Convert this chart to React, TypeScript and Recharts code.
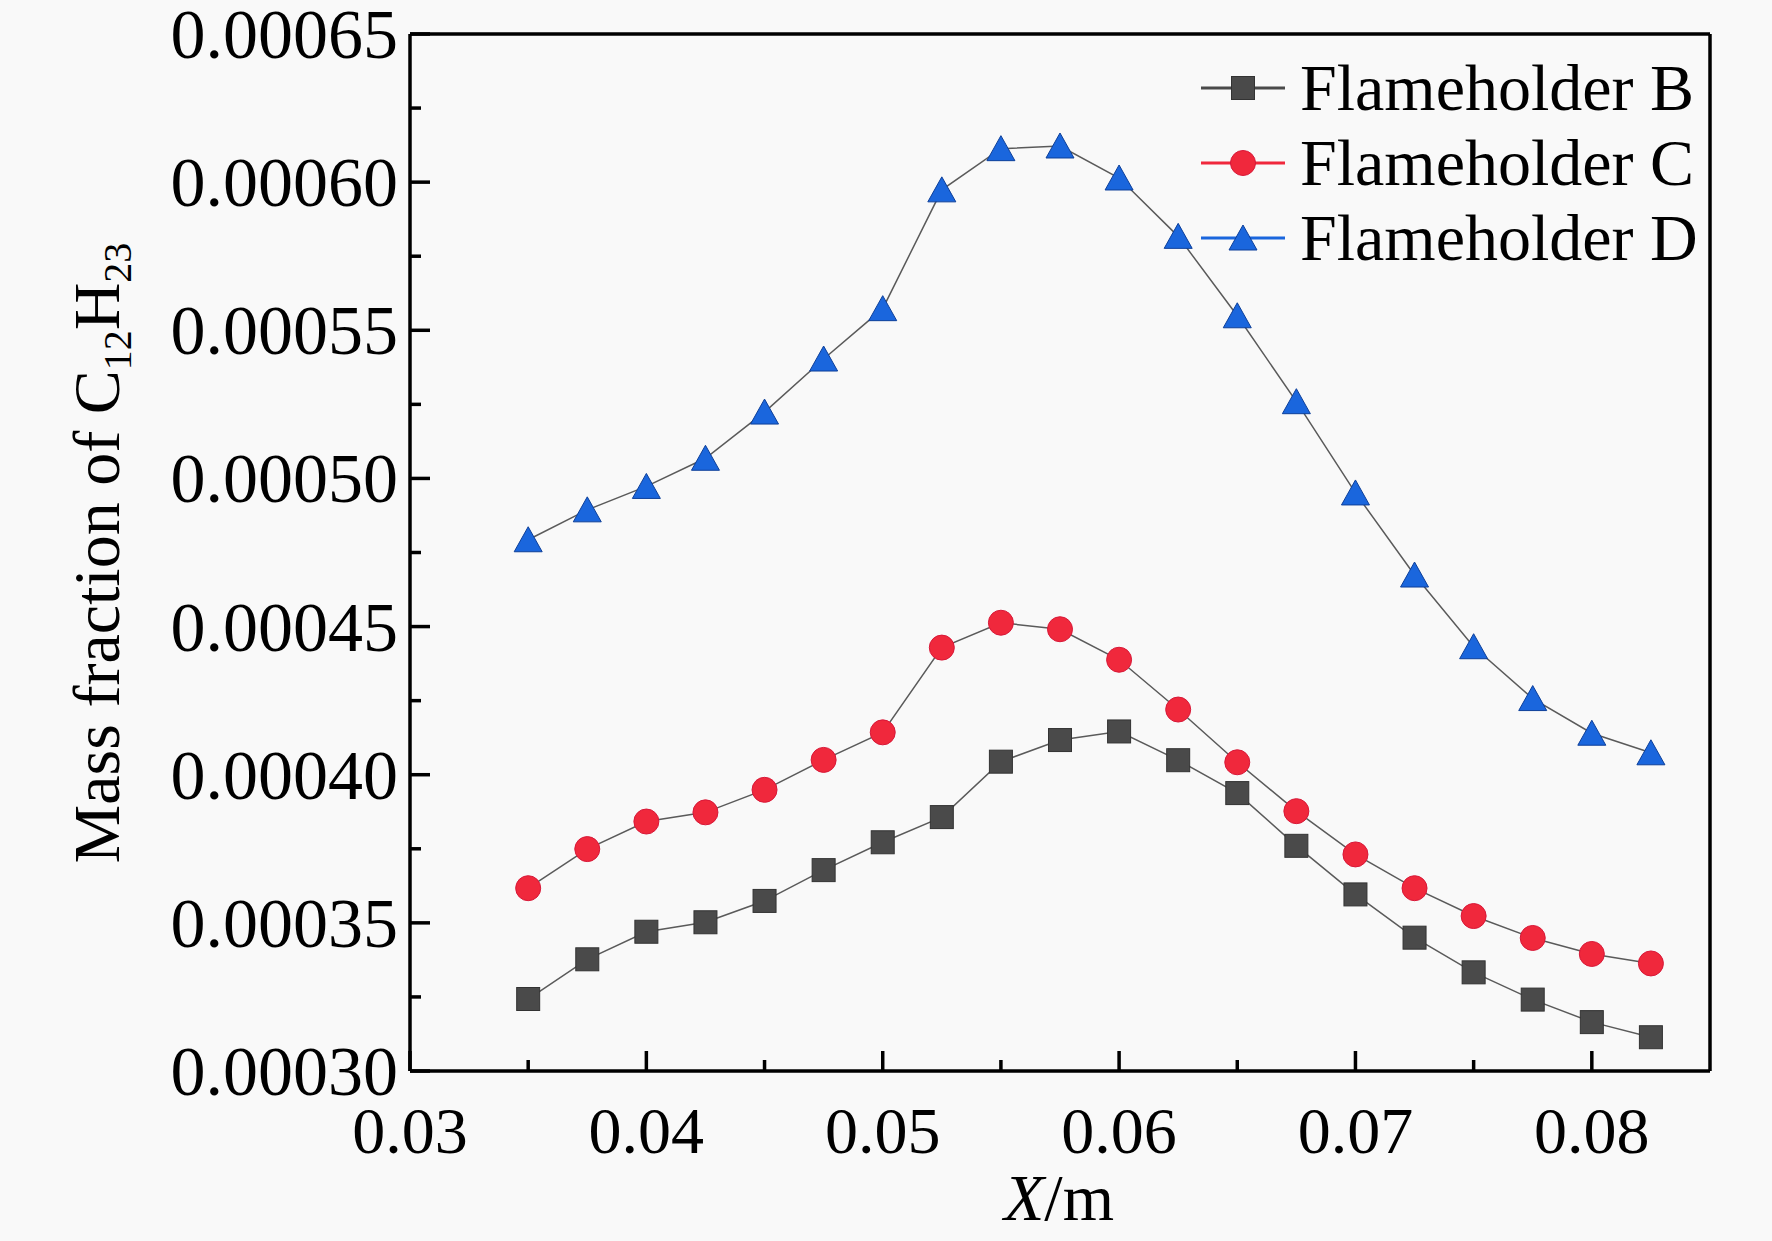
import React from 'react';
import { LineChart, Line, XAxis, YAxis, ReferenceLine } from 'recharts';

// axial position along the combustor (m)
const positions = [
  0.035, 0.0375, 0.04, 0.0425, 0.045, 0.0475, 0.05, 0.0525, 0.055, 0.0575,
  0.06, 0.0625, 0.065, 0.0675, 0.07, 0.0725, 0.075, 0.0775, 0.08, 0.0825,
];

// C12H23 mass fraction
const flameholderB = [
  0.0003243, 0.0003377, 0.000347, 0.0003502, 0.0003574, 0.0003678, 0.0003772, 0.0003857, 0.0004044, 0.0004117,
  0.0004146, 0.0004049, 0.0003938, 0.000376, 0.0003596, 0.000345, 0.0003333, 0.0003241, 0.0003165, 0.0003114,
];
const flameholderC = [
  0.0003617, 0.0003749, 0.0003842, 0.0003873, 0.0003949, 0.000405, 0.0004143, 0.0004429, 0.0004513, 0.0004491,
  0.0004388, 0.000422, 0.0004042, 0.0003877, 0.0003731, 0.0003617, 0.0003523, 0.0003449, 0.0003395, 0.0003363,
];
const flameholderD = [
  0.0004793, 0.0004894, 0.0004973, 0.0005068, 0.0005224, 0.0005403, 0.0005573, 0.0005974, 0.0006113, 0.0006122,
  0.0006014, 0.0005817, 0.0005549, 0.0005259, 0.0004951, 0.0004674, 0.0004432, 0.0004257, 0.000414, 0.0004074,
];

const xTicks = [0.03, 0.035, 0.04, 0.045, 0.05, 0.055, 0.06, 0.065, 0.07, 0.075, 0.08];
const yTicks = [
  0.0003, 0.000325, 0.00035, 0.000375, 0.0004, 0.000425, 0.00045, 0.000475,
  0.0005, 0.000525, 0.00055, 0.000575, 0.0006, 0.000625, 0.00065,
];

const FONT = '"Liberation Serif", "Times New Roman", serif';
const FONT_SIZE = 66;
const AXIS_W = 3.5;

const data = positions.map((x, i) => ({
  x,
  b: flameholderB[i],
  c: flameholderC[i],
  d: flameholderD[i],
}));

const SERIES = [
  { key: 'b', name: 'Flameholder B', color: '#4a4a4a', shape: 'square' },
  { key: 'c', name: 'Flameholder C', color: '#f0283c', shape: 'circle' },
  { key: 'd', name: 'Flameholder D', color: '#1a66dd', shape: 'triangle' },
];

function marker(shape: string, cx: number, cy: number, key?: string) {
  if (shape === 'square') {
    return <rect key={key} x={cx - 11.5} y={cy - 11.5} width={23} height={23} fill="#4a4a4a" stroke="#333" strokeWidth={1} />;
  }
  if (shape === 'circle') {
    return <circle key={key} cx={cx} cy={cy} r={12.5} fill="#f0283c" stroke="#d81838" strokeWidth={1} />;
  }
  return (
    <polygon
      key={key}
      points={`${cx},${cy - 13} ${cx - 14},${cy + 12} ${cx + 14},${cy + 12}`}
      fill="#1a66dd"
      stroke="#0d3f99"
      strokeWidth={1}
    />
  );
}

const isMultiple = (v: number, step: number) => Math.abs(v / step - Math.round(v / step)) < 1e-6;

function XTick(props: any) {
  const { x, y, payload } = props;
  const major = isMultiple(payload.value, 0.01);
  return (
    <g>
      <line x1={x} x2={x} y1={y} y2={y - (major ? 20 : 11)} stroke="#000" strokeWidth={AXIS_W} />
      {major && (
        <text x={x} y={y + 82} textAnchor="middle" fontFamily={FONT} fontSize={FONT_SIZE} fill="#000">
          {payload.value.toFixed(2)}
        </text>
      )}
    </g>
  );
}

function YTick(props: any) {
  const { x, y, payload } = props;
  const major = isMultiple(payload.value, 0.00005);
  return (
    <g>
      <line x1={x} x2={x + (major ? 20 : 11)} y1={y} y2={y} stroke="#000" strokeWidth={AXIS_W} />
      {major && (
        <text x={x - 12} y={y + 24} textAnchor="end" fontFamily={FONT} fontSize={70} fill="#000">
          {payload.value.toFixed(5)}
        </text>
      )}
    </g>
  );
}

function LegendBox() {
  return (
    <div style={{ position: 'absolute', top: 50, left: 1201, fontFamily: FONT, fontSize: FONT_SIZE, color: '#000' }}>
      {SERIES.map((s) => (
        <div key={s.key} style={{ display: 'flex', alignItems: 'center', height: 75 }}>
          <svg width={99} height={40}>
            <line x1={0} x2={84} y1={20} y2={20} stroke={s.color} strokeWidth={3} />
            {marker(s.shape, 42, 20)}
          </svg>
          <span style={{ lineHeight: '75px', whiteSpace: 'nowrap' }}>{s.name}</span>
        </div>
      ))}
    </div>
  );
}

export default function App() {
  return (
    <div style={{ position: 'absolute', left: 0, top: 0, width: 1772, height: 1241, background: '#f9f9f9' }}>
      <LineChart width={1772} height={1241} data={data} margin={{ top: 34, right: 62, bottom: 0, left: 110 }}>
        <XAxis
          dataKey="x"
          type="number"
          domain={[0.03, 0.085]}
          ticks={xTicks}
          interval={0}
          tickSize={0}
          tickMargin={0}
          tickLine={false}
          tick={<XTick />}
          height={170}
          axisLine={{ stroke: '#000', strokeWidth: AXIS_W }}
          allowDataOverflow
        />
        <YAxis
          type="number"
          domain={[0.0003, 0.00065]}
          ticks={yTicks}
          interval={0}
          tickSize={0}
          tickMargin={0}
          tickLine={false}
          tick={<YTick />}
          width={300}
          axisLine={{ stroke: '#000', strokeWidth: AXIS_W }}
          allowDataOverflow
        />
        <ReferenceLine y={0.00065} stroke="#000" strokeWidth={AXIS_W} />
        <ReferenceLine x={0.085} stroke="#000" strokeWidth={AXIS_W} />
        {SERIES.map((s) => (
          <Line
            key={s.key}
            type="linear"
            dataKey={s.key}
            name={s.name}
            stroke="#5a5a5a"
            strokeWidth={1.5}
            dot={(p: any) => marker(s.shape, p.cx, p.cy, `${s.key}-${p.index}`)}
            activeDot={false}
            isAnimationActive={false}
          />
        ))}
        <text x={1059} y={1220} textAnchor="middle" fontFamily={FONT} fontSize={FONT_SIZE} fill="#000">
          <tspan fontStyle="italic">X</tspan>/m
        </text>
        <text
          x={119}
          y={553}
          transform="rotate(-90, 119, 553)"
          textAnchor="middle"
          fontFamily={FONT}
          fontSize={FONT_SIZE}
          fill="#000"
        >
          Mass fraction of C
          <tspan fontSize={40} dy={12}>12</tspan>
          <tspan fontSize={FONT_SIZE} dy={-12}>H</tspan>
          <tspan fontSize={40} dy={12}>23</tspan>
        </text>
      </LineChart>
      <LegendBox />
    </div>
  );
}
